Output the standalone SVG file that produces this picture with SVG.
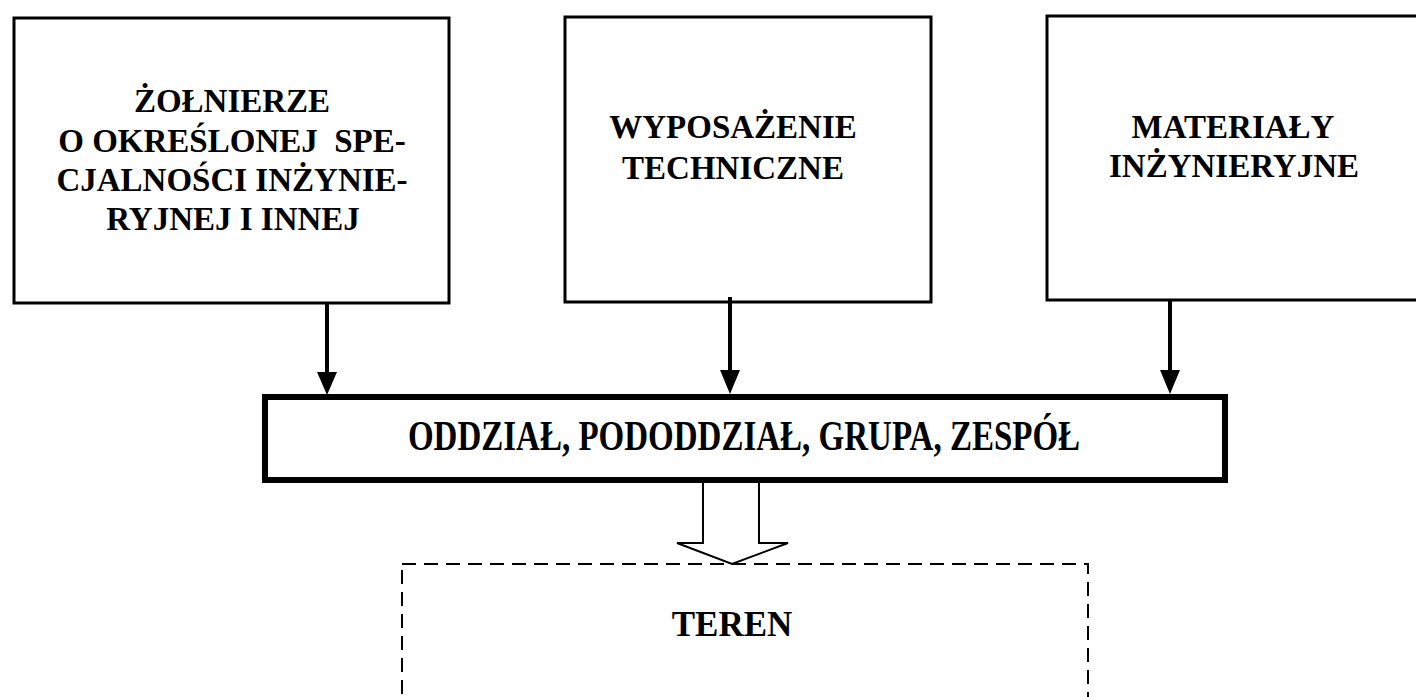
<svg xmlns="http://www.w3.org/2000/svg" width="1416" height="697" viewBox="0 0 1416 697">
<style>
.box{fill:#fff;stroke:#000;stroke-width:3}
.t{font-family:"Liberation Serif","Times New Roman",serif;font-weight:bold;font-size:33px;fill:#000;text-anchor:middle}
.conn{stroke:#000;stroke-width:4;fill:none}
.head{fill:#000}
</style>
<rect width="1416" height="697" fill="#fff"/>
<g id="n1">
<rect class="box" x="14" y="18" width="435" height="285"/>
<text class="t" x="232" y="112">ŻOŁNIERZE</text>
<text class="t" x="232" y="152" xml:space="preserve">O OKREŚLONEJ  SPE-</text>
<text class="t" x="232" y="191">CJALNOŚCI INŻYNIE-</text>
<text class="t" x="233" y="230">RYJNEJ I INNEJ</text>
</g>
<g id="n2">
<rect class="box" x="565" y="17" width="366" height="285"/>
<text class="t" x="733" y="138">WYPOSAŻENIE</text>
<text class="t" x="733" y="179">TECHNICZNE</text>
</g>
<g id="n3">
<rect class="box" x="1047" y="16" width="380" height="284"/>
<text class="t" x="1233" y="138">MATERIAŁY</text>
<text class="t" x="1234" y="177">INŻYNIERYJNE</text>
</g>
<g id="n4">
<rect x="265" y="397" width="960" height="83" fill="#fff" stroke="#000" stroke-width="6"/>
<text class="t" transform="translate(744,450) scale(1,1.3)" x="0" y="0">ODDZIAŁ, PODODDZIAŁ, GRUPA, ZESPÓŁ</text>
</g>
<g id="n5">
<rect x="402" y="564" width="686" height="160" fill="none" stroke="#000" stroke-width="2" stroke-dasharray="14,8"/>
<text class="t" x="732" y="636" style="font-size:35px">TEREN</text>
</g>
<g id="connectors">
<line class="conn" x1="327" y1="303" x2="327" y2="374"/>
<path class="head" d="M317,372 L337,372 L327,395 Z"/>
<line class="conn" x1="730" y1="297" x2="730" y2="372"/>
<path class="head" d="M720,370 L740,370 L730,394 Z"/>
<line class="conn" x1="1170" y1="300" x2="1170" y2="372"/>
<path class="head" d="M1160,370 L1180,370 L1170,394 Z"/>
<path d="M703,483 L703,543 L677,543 L732,564 L788,543 L759,543 L759,483" fill="#fff" stroke="#000" stroke-width="2"/>
</g>
</svg>
